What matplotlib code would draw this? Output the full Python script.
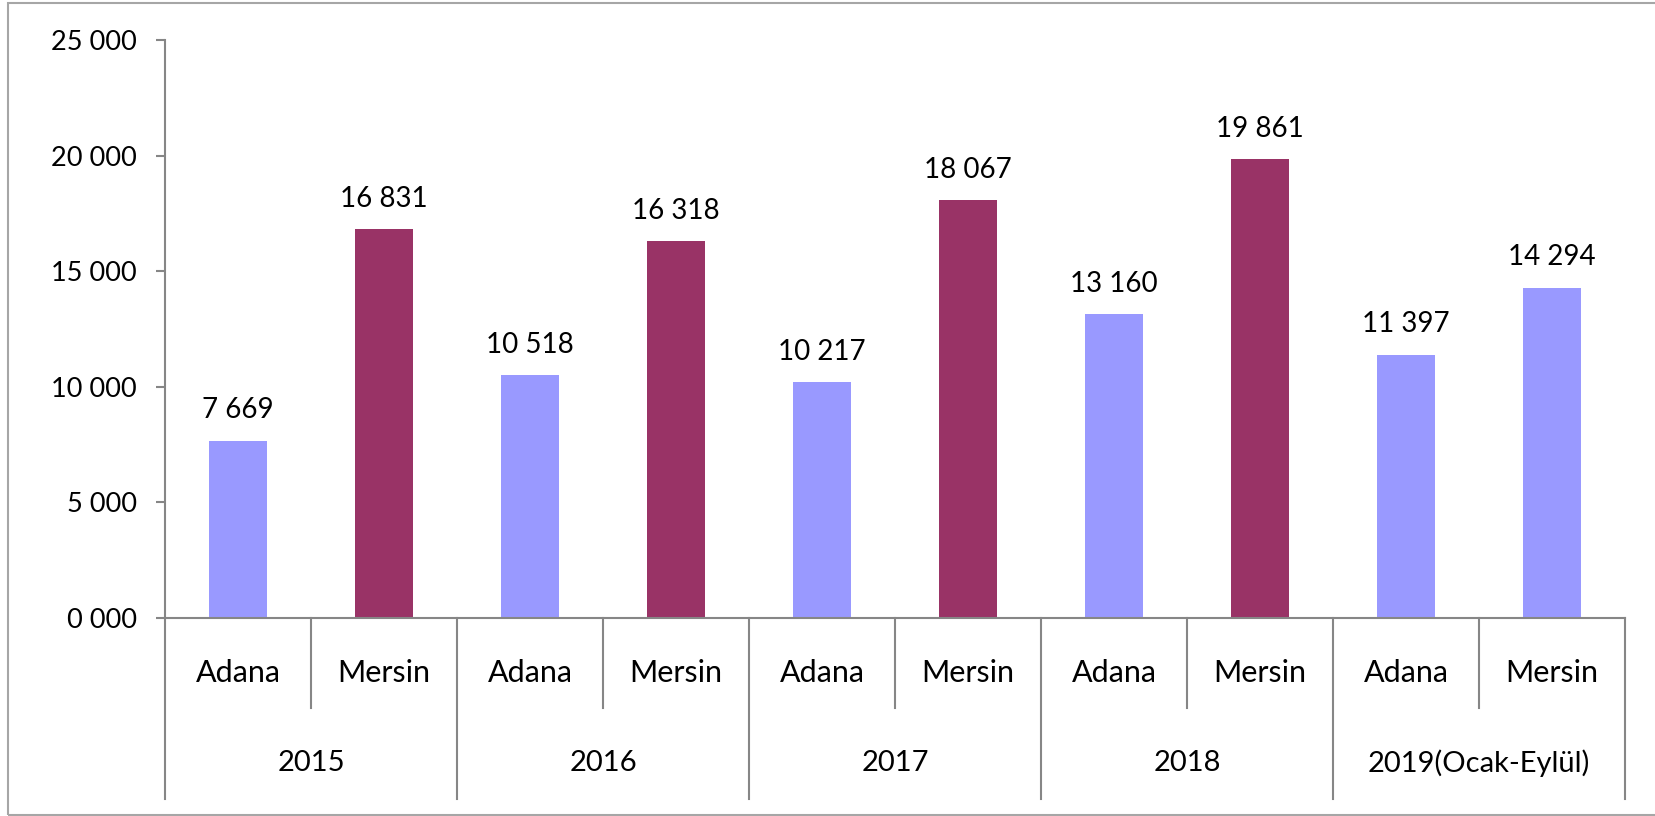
import matplotlib
matplotlib.use("Agg")
import matplotlib.pyplot as plt
import matplotlib.transforms as mtransforms
from matplotlib.patches import Rectangle
import numpy as np

plt.rcParams['font.family'] = ['Lato', 'DejaVu Sans']

years = ['2015', '2016', '2017', '2018', '2019(Ocak-Eylül)']
cities = ['Adana', 'Mersin']
adana = [7669, 10518, 10217, 13160, 11397]
mersin = [16831, 16318, 18067, 19861, 14294]
y_ticks = [0, 5000, 10000, 15000, 20000, 25000]

light = '#9999FF'
dark = '#993366'
axis_gray = '#868686'


def fmt(v):
    return f"{v // 1000} {v % 1000:03d}"


W, H = 1655, 816
fig = plt.figure(figsize=(W / 100, H / 100), dpi=100)
fig.patch.set_facecolor('white')

# outer frame of the chart area
fig.add_artist(Rectangle((8 / W, 1 - 815 / H), 1.2, (812 / H),
                         transform=fig.transFigure, fill=False,
                         edgecolor='#a6a6a6', linewidth=1.5))

ax = fig.add_axes([165 / W, 1 - 618 / H, 1460 / W, 578 / H])

values = []
colors = []
for i in range(len(years)):
    values += [adana[i], mersin[i]]
    colors += [light, dark if i < len(years) - 1 else light]

x = np.arange(len(values))
bars = ax.bar(x, values, width=0.4, color=colors)
for xi, v in zip(x, values):
    ax.annotate(fmt(v), (xi, v), xytext=(0, 16), textcoords='offset points',
                ha='center', va='baseline', fontsize=20)

ax.set_xlim(-0.5, len(values) - 0.5)
ax.set_ylim(0, 25000)
ax.set_yticks(y_ticks)
ax.set_yticklabels([fmt(v) for v in y_ticks], fontsize=19.5)
ax.tick_params(axis='y', length=6.5, width=1.5, color=axis_gray, pad=14)
ax.set_xticks([])

for s in ['top', 'right']:
    ax.spines[s].set_visible(False)
for s in ['left', 'bottom']:
    ax.spines[s].set_color(axis_gray)
    ax.spines[s].set_linewidth(1.5)

# two-level category axis drawn below the plot
trans = mtransforms.blended_transform_factory(ax.transData, ax.transAxes)
inner_y = -90 / 578
outer_y = -181 / 578
for k in range(len(values) + 1):
    xb = k - 0.5
    low = outer_y if k % 2 == 0 else inner_y
    ax.plot([xb, xb], [0, low], transform=trans, color=axis_gray,
            linewidth=1.5, clip_on=False)

for xi in x:
    ax.text(xi, -55 / 578, cities[xi % 2], transform=trans, ha='center',
            va='center', fontsize=22)
for i, yr in enumerate(years):
    ax.text(2 * i + 0.5, -145 / 578, yr, transform=trans, ha='center',
            va='center', fontsize=21)

fig.savefig('out.png', dpi=100, facecolor='white')
